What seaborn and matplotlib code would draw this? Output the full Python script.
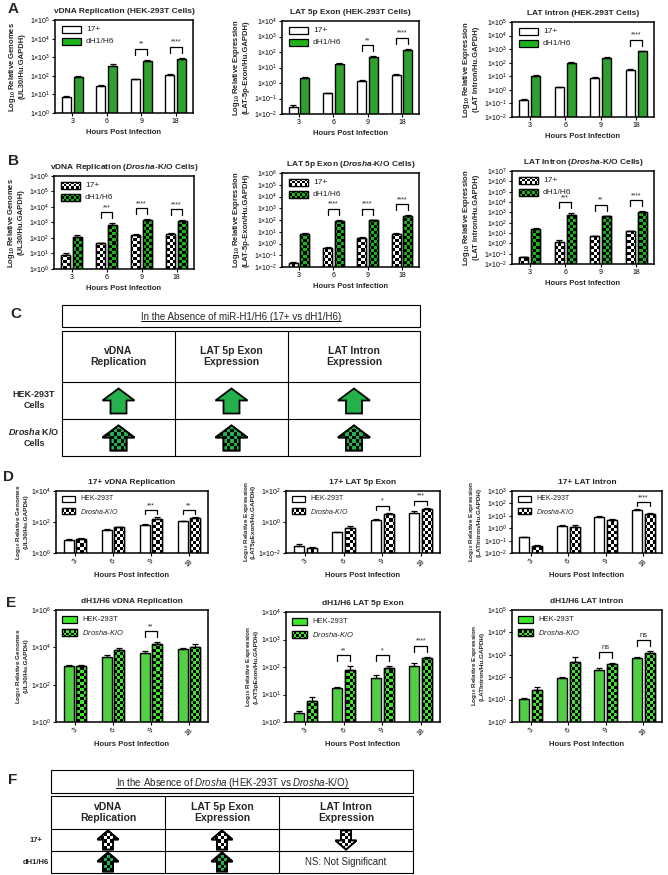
import matplotlib
matplotlib.use('Agg')
import matplotlib.colors as mcolors
import matplotlib.patches as mpatches
import matplotlib.pyplot as plt
import numpy as np
import pandas as pd
import seaborn as sns
from matplotlib.ticker import NullLocator

W, H = 668, 875

hours = ['3', '6', '9', '18']

# A: HEK-293T cells, 17+ vs dH1/H6
vdna_hek_17 = [7, 30, 65, 115]
vdna_hek_17_err = [1.5, 4, 5, 8]
vdna_hek_dh = [90, 350, 650, 850]
vdna_hek_dh_err = [12, 70, 90, 110]
exon_hek_17 = [0.03, 0.22, 1.3, 3.5]
exon_hek_17_err = [0.006, 0.02, 0.15, 0.6]
exon_hek_dh = [2.2, 18, 45, 130]
exon_hek_dh_err = [0.3, 2, 8, 30]
intron_hek_17 = [0.18, 1.5, 8, 30]
intron_hek_17_err = [0.02, 0.15, 0.8, 4]
intron_hek_dh = [11, 95, 220, 700]
intron_hek_dh_err = [1, 10, 30, 90]
sig_vdna_hek = ['', '', '**', '****']
sig_exon_hek = ['', '', '**', '****']
sig_intron_hek = ['', '', '', '****']

# B: Drosha-K/O cells, 17+ vs dH1/H6
vdna_ko_17 = [8, 45, 160, 180]
vdna_ko_17_err = [2, 4, 20, 20]
vdna_ko_dh = [120, 700, 1400, 1200]
vdna_ko_dh_err = [30, 200, 300, 250]
exon_ko_17 = [0.022, 0.4, 3.2, 6.5]
exon_ko_17_err = [0.003, 0.08, 0.3, 0.8]
exon_ko_dh = [6.5, 85, 100, 230]
exon_ko_dh_err = [2, 20, 10, 20]
intron_ko_17 = [0.045, 1.3, 4.8, 14]
intron_ko_17_err = [0.005, 0.6, 0.5, 2]
intron_ko_dh = [25, 500, 420, 1200]
intron_ko_dh_err = [4, 300, 40, 100]
sig_vdna_ko = ['', '***', '****', '****']
sig_exon_ko = ['', '****', '****', '****']
sig_intron_ko = ['', '***', '**', '****']

# D: 17+, HEK-293T vs Drosha-K/O
d_vdna_hek = [7, 30, 66, 110]
d_vdna_hek_err = [1.5, 5, 6, 8]
d_vdna_ko = [7.5, 45, 150, 180]
d_vdna_ko_err = [2, 6, 50, 30]
d_exon_hek = [0.028, 0.22, 1.25, 4]
d_exon_hek_err = [0.01, 0.02, 0.2, 1]
d_exon_ko = [0.022, 0.42, 3.5, 7]
d_exon_ko_err = [0.004, 0.1, 0.6, 1.5]
d_intron_hek = [0.18, 1.6, 8, 30]
d_intron_hek_err = [0.03, 0.2, 1, 5]
d_intron_ko = [0.04, 1.3, 4.9, 15]
d_intron_ko_err = [0.005, 0.6, 0.8, 2]
sig_d_vdna = ['', '', '***', '**']
sig_d_exon = ['', '', '*', '***']
sig_d_intron = ['', '', '', '****']

# E: dH1/H6, HEK-293T vs Drosha-K/O
e_vdna_hek = [1000, 3200, 5000, 8500]
e_vdna_hek_err = [200, 500, 1500, 1000]
e_vdna_ko = [1000, 7000, 15000, 11000]
e_vdna_ko_err = [200, 2500, 4000, 4000]
e_exon_hek = [2.2, 17, 40, 110]
e_exon_hek_err = [0.4, 2, 10, 30]
e_exon_ko = [6, 75, 95, 220]
e_exon_ko_err = [2, 30, 10, 20]
e_intron_hek = [11, 90, 220, 700]
e_intron_hek_err = [1, 10, 30, 100]
e_intron_ko = [27, 480, 380, 1150]
e_intron_ko_err = [8, 350, 40, 300]
sig_e_vdna = ['', '', '**', '']
sig_e_exon = ['', '**', '*', '****']
sig_e_intron = ['', '', 'ns', 'ns']

GREEN = '#1db31d'
LIME = '#40e62e'
ARROW_GREEN = '#24b04a'

sns.set_theme(style='ticks')
plt.rcParams['font.family'] = ['Liberation Sans', 'DejaVu Sans']
plt.rcParams['mathtext.fontset'] = 'custom'
plt.rcParams['mathtext.rm'] = 'Liberation Sans'
plt.rcParams['mathtext.it'] = 'Liberation Sans:italic'
plt.rcParams['mathtext.bf'] = 'Liberation Sans:bold'
plt.rcParams['mathtext.sf'] = 'Liberation Sans:bold:italic'
plt.rcParams['mathtext.default'] = 'regular'


def checker(c1, c2, nx, ny):
    a = np.array(mcolors.to_rgba(c1))
    b = np.array(mcolors.to_rgba(c2))
    ii, jj = np.indices((ny, nx))
    mask = ((ii + jj) % 2 == 0)[..., None]
    return np.where(mask, a, b)


def add_axes_px(fig, box):
    x0, y0, x1, y1 = box
    return fig.add_axes([x0 / W, 1 - y1 / H, (x1 - x0) / W, (y1 - y0) / H])


def checker_on_axes(ax, box, patch, c1, z, cell=3):
    wpx = box[2] - box[0]
    hpx = box[3] - box[1]
    img = checker(c1, 'black', int(wpx / cell), int(hpx / cell))
    im = ax.imshow(img, extent=(0, 1, 0, 1), transform=ax.transAxes,
                   aspect='auto', interpolation='nearest', zorder=z)
    im.set_clip_path(patch)


def draw_legend(ax, box, labels, styles, xo, yo, sw, sh, step, fs):
    wpx = box[2] - box[0]
    hpx = box[3] - box[1]
    for k, (lab, st) in enumerate(zip(labels, styles)):
        top = yo + k * step
        xy = (xo / wpx, 1 - (top + sh) / hpx)
        rect = mpatches.Rectangle(xy, sw / wpx, sh / hpx, transform=ax.transAxes,
                                  facecolor=st[1], edgecolor='black', lw=0.9,
                                  zorder=6)
        ax.add_patch(rect)
        if st[0] == 'checker':
            checker_on_axes(ax, box, rect, st[1], 6.5, cell=2.5)
            ax.add_patch(mpatches.Rectangle(xy, sw / wpx, sh / hpx,
                                            transform=ax.transAxes, fill=False,
                                            edgecolor='black', lw=0.9, zorder=7))
        ax.text((xo + sw + 5) / wpx, 1 - (top + sh / 2) / hpx, lab,
                transform=ax.transAxes, va='center', ha='left', fontsize=fs,
                color='#222222')


def bar_panel(fig, box, v1, e1, v2, e2, names, styles, labels, exps, ticks,
              sig, title, ylabel, rotate, leg):
    ax = add_axes_px(fig, box)
    df = pd.DataFrame({'Hours': hours * 2, 'Value': v1 + v2,
                       'Group': [names[0]] * 4 + [names[1]] * 4})
    ax.set_yscale('log')
    sns.barplot(data=df, x='Hours', y='Value', hue='Group', order=hours,
                hue_order=names, palette=[styles[0][1], styles[1][1]],
                edgecolor='black', linewidth=1.0, width=0.68, gap=0.22,
                errorbar=None, legend=False, ax=ax, zorder=2)
    ax.set_ylim(10.0 ** exps[0], 10.0 ** exps[1])
    ax.set_xlim(-0.5, 3.5)
    ax.set_autoscale_on(False)

    for cont, st in zip(ax.containers, styles):
        if st[0] != 'checker':
            continue
        for bar in cont:
            checker_on_axes(ax, box, bar, st[1], 2.5)
            ax.add_patch(mpatches.Rectangle((bar.get_x(), bar.get_y()),
                                            bar.get_width(), bar.get_height(),
                                            fill=False, edgecolor='black',
                                            lw=1.0, zorder=2.6))

    for cont, errs in zip(ax.containers, (e1, e2)):
        for bar, err in zip(cont, errs):
            xc = bar.get_x() + bar.get_width() / 2
            top = bar.get_y() + bar.get_height()
            ax.errorbar(xc, top, yerr=[[0], [err]], fmt='none', ecolor='black',
                        elinewidth=0.9, capsize=2, capthick=0.9, zorder=5)

    hpx = box[3] - box[1]
    legs, rise = (3, 7) if hpx < 80 else (5, 11)
    trans = ax.get_xaxis_transform()
    for i, s in enumerate(sig):
        if not s:
            continue
        b1 = ax.containers[0][i]
        b2 = ax.containers[1][i]
        xa = b1.get_x() + b1.get_width() / 2
        xb = b2.get_x() + b2.get_width() / 2
        top = max(v1[i] + e1[i], v2[i] + e2[i])
        f = (np.log10(top) - exps[0]) / (exps[1] - exps[0])
        fl = f + legs / hpx
        ft = f + rise / hpx
        ax.plot([xa, xa, xb, xb], [fl, ft, ft, fl], transform=trans,
                color='black', lw=0.9, clip_on=False, zorder=6)
        ax.text((xa + xb) / 2, ft + 1 / hpx, s, transform=trans, ha='center',
                va='bottom', fontsize=5 if s != 'ns' else 5.5, clip_on=False)

    ax.set_yticks([10.0 ** e for e in ticks])
    ax.set_yticklabels([f'1×10$^{{{e}}}$' for e in ticks])
    ax.yaxis.set_minor_locator(NullLocator())
    ax.tick_params(axis='both', labelsize=5, length=2.5, width=0.8, pad=1,
                   colors='black')
    if rotate:
        plt.setp(ax.get_xticklabels(), rotation=45, ha='center')
    for sp in ax.spines.values():
        sp.set_linewidth(1.1)
        sp.set_color('black')
    ax.set_title(title, fontsize=6, fontweight='bold', pad=5)
    ax.set_xlabel('Hours Post Infection', fontsize=5.5, fontweight='bold',
                  labelpad=3)
    ax.set_ylabel(ylabel, fontsize=4.6 if rotate else 5.5, fontweight='bold',
                  labelpad=1.5 if rotate else 3, linespacing=1.1)
    draw_legend(ax, box, labels, styles, *leg)
    return ax


def arrow_pts(cx, cy, h, hw, sw, hl, up=True):
    s = -1 if up else 1
    tip = cy + s * h / 2
    base = cy - s * h / 2
    neck = tip - s * hl
    return [(cx, tip), (cx + hw / 2, neck), (cx + sw / 2, neck),
            (cx + sw / 2, base), (cx - sw / 2, base), (cx - sw / 2, neck),
            (cx - hw / 2, neck)]


def draw_arrow(ov, cx, cy, dims, up, fill, check=False, cell=3.5):
    pts = arrow_pts(cx, cy, *dims, up=up)
    poly = mpatches.Polygon(pts, closed=True, facecolor=fill,
                            edgecolor='black', lw=1.3, zorder=3)
    ov.add_patch(poly)
    if check:
        xs = [p[0] for p in pts]
        ys = [p[1] for p in pts]
        nx = max(1, int(round((max(xs) - min(xs)) / cell)))
        ny = max(1, int(round((max(ys) - min(ys)) / cell)))
        im = ov.imshow(checker(fill, 'black', nx, ny),
                       extent=(min(xs), max(xs), max(ys), min(ys)),
                       aspect='auto', interpolation='nearest', zorder=3.5)
        im.set_clip_path(poly)
        ov.add_patch(mpatches.Polygon(pts, closed=True, fill=False,
                                      edgecolor='black', lw=1.3, zorder=4))


def draw_table(ov, x_cols, y_rows, title_box, title, headers):
    tx0, ty0, tx1, ty1 = title_box
    ov.add_patch(mpatches.Rectangle((tx0, ty0), tx1 - tx0, ty1 - ty0,
                                    fill=False, edgecolor='black', lw=0.8))
    t = ov.text((tx0 + tx1) / 2, (ty0 + ty1) / 2 + 1, title, ha='center',
                va='center', fontsize=7)
    for x in x_cols:
        ov.plot([x, x], [y_rows[0], y_rows[-1]], color='black', lw=0.8)
    for y in y_rows:
        ov.plot([x_cols[0], x_cols[-1]], [y, y], color='black', lw=0.8)
    for k, hd in enumerate(headers):
        ov.text((x_cols[k] + x_cols[k + 1]) / 2, (y_rows[0] + y_rows[1]) / 2,
                hd, ha='center', va='center', fontsize=7.5, fontweight='bold',
                linespacing=1.15)
    return t


fig = plt.figure(figsize=(W / 100, H / 100), dpi=100)
ov = fig.add_axes([0, 0, 1, 1])
ov.set_xlim(0, W)
ov.set_ylim(H, 0)
ov.axis('off')
ov.set_autoscale_on(False)

yl_gen = 'Log$_{10}$ Relative Genomes\n(UL30/Hu.GAPDH)'
yl_exon = 'Log$_{10}$ Relative Expression\n(LAT-5p-Exon/Hu.GAPDH)'
yl_intron = 'Log$_{10}$ Relative Expression\n(LAT Intron/Hu.GAPDH)'
yl_exon2 = 'Log$_{10}$ Relative Expression\n(LAT5pExon/Hu.GAPDH)'
yl_intron2 = 'Log$_{10}$ Relative Expression\n(LATIntron/Hu.GAPDH)'

virus = ['17+', 'dH1/H6']
cells = ['HEK-293T', 'Drosha-K/O']
cell_labels = ['HEK-293T', r'$\mathit{Drosha}$-$\mathit{K/O}$']
st_a = [('solid', 'white'), ('solid', GREEN)]
st_b = [('checker', 'white'), ('checker', GREEN)]
st_d = [('solid', 'white'), ('checker', 'white')]
st_e = [('solid', LIME), ('checker', LIME)]
leg_big = (7, 6, 19, 7, 12, 6)
leg_d = (6, 5, 13, 6, 12, 5)
leg_e = (6, 6, 15, 7, 13, 5.5)

bar_panel(fig, (55, 20, 193, 113), vdna_hek_17, vdna_hek_17_err, vdna_hek_dh,
          vdna_hek_dh_err, virus, st_a, virus, (0, 5), range(0, 6),
          sig_vdna_hek, 'vDNA Replication (HEK-293T Cells)', yl_gen, False,
          leg_big)
bar_panel(fig, (282, 21, 419, 114), exon_hek_17, exon_hek_17_err, exon_hek_dh,
          exon_hek_dh_err, virus, st_a, virus, (-2, 4), range(-2, 5),
          sig_exon_hek, 'LAT 5p Exon (HEK-293T Cells)', yl_exon, False, leg_big)
bar_panel(fig, (512, 22, 654, 117), intron_hek_17, intron_hek_17_err,
          intron_hek_dh, intron_hek_dh_err, virus, st_a, virus, (-2, 5),
          range(-2, 6), sig_intron_hek, 'LAT Intron (HEK-293T Cells)',
          yl_intron, False, leg_big)

bar_panel(fig, (54, 176, 194, 269), vdna_ko_17, vdna_ko_17_err, vdna_ko_dh,
          vdna_ko_dh_err, virus, st_b, virus, (0, 6), range(0, 7),
          sig_vdna_ko, r'vDNA Replication ($\mathsf{Drosha}$-K/O Cells)', yl_gen,
          False, leg_big)
bar_panel(fig, (282, 173, 419, 267), exon_ko_17, exon_ko_17_err, exon_ko_dh,
          exon_ko_dh_err, virus, st_b, virus, (-2, 6), range(-2, 7),
          sig_exon_ko, r'LAT 5p Exon ($\mathsf{Drosha}$-K/O Cells)', yl_exon,
          False, leg_big)
bar_panel(fig, (512, 171, 654, 264), intron_ko_17, intron_ko_17_err,
          intron_ko_dh, intron_ko_dh_err, virus, st_b, virus, (-2, 7),
          range(-2, 8), sig_intron_ko,
          r'LAT Intron ($\mathsf{Drosha}$-K/O Cells)', yl_intron, False, leg_big)

bar_panel(fig, (56, 491, 208, 553), d_vdna_hek, d_vdna_hek_err, d_vdna_ko,
          d_vdna_ko_err, cells, st_d, cell_labels, (0, 4), [0, 2, 4],
          sig_d_vdna, '17+ vDNA Replication', yl_gen, True, leg_d)
bar_panel(fig, (286, 491, 440, 553), d_exon_hek, d_exon_hek_err, d_exon_ko,
          d_exon_ko_err, cells, st_d, cell_labels, (-2, 2), [-2, 0, 2],
          sig_d_exon, '17+ LAT 5p Exon', yl_exon2, True, leg_d)
bar_panel(fig, (512, 491, 662, 553), d_intron_hek, d_intron_hek_err,
          d_intron_ko, d_intron_ko_err, cells, st_d, cell_labels, (-2, 3),
          range(-2, 4), sig_d_intron, '17+ LAT Intron', yl_intron2, True, leg_d)

bar_panel(fig, (56, 610, 208, 722), e_vdna_hek, e_vdna_hek_err, e_vdna_ko,
          e_vdna_ko_err, cells, st_e, cell_labels, (0, 6), [0, 2, 4, 6],
          sig_e_vdna, 'dH1/H6 vDNA Replication', yl_gen, True, leg_e)
bar_panel(fig, (286, 612, 440, 722), e_exon_hek, e_exon_hek_err, e_exon_ko,
          e_exon_ko_err, cells, st_e, cell_labels, (0, 4), range(0, 5),
          sig_e_exon, 'dH1/H6 LAT 5p Exon', yl_exon2, True, leg_e)
bar_panel(fig, (512, 610, 662, 722), e_intron_hek, e_intron_hek_err,
          e_intron_ko, e_intron_ko_err, cells, st_e, cell_labels, (0, 5),
          range(0, 6), sig_e_intron, 'dH1/H6 LAT Intron', yl_intron2, True,
          leg_e)

# panel letters
for letter, (x, y) in zip('ABCDEF', [(8, 9), (8, 161), (10, 314), (3, 477),
                                      (6, 603), (8, 780)]):
    ov.text(x, y, letter, fontsize=11, fontweight='bold', ha='left',
            va='center')

headers = ['vDNA\nReplication', 'LAT 5p Exon\nExpression',
           'LAT Intron\nExpression']

# table C
c_cols = [62, 175, 288, 420]
c_rows = [331, 382, 419, 456]
t_c = draw_table(ov, c_cols, c_rows, (62, 305, 420, 327),
                 'In the Absence of miR-H1/H6 (17+ vs dH1/H6)', headers)
ov.text(34, 400, 'HEK-293T\nCells', ha='center', va='center', fontsize=6.5,
        fontweight='bold', linespacing=1.2)
ov.text(34, 437, '$\\mathsf{Drosha}$ K/O\nCells', ha='center', va='center',
        fontsize=6.5, fontweight='bold', linespacing=1.2)
c_dims = (25, 32, 16, 12)
for k in range(3):
    cx = (c_cols[k] + c_cols[k + 1]) / 2
    draw_arrow(ov, cx, 401, c_dims, True, ARROW_GREEN)
    draw_arrow(ov, cx, 438, c_dims, True, ARROW_GREEN, check=True)

# table F
f_cols = [51, 165, 279, 413]
f_rows = [796, 829, 851, 873]
t_f = draw_table(ov, f_cols, f_rows, (51, 770, 413, 793),
                 r'In the Absence of $\mathit{Drosha}$ (HEK-293T vs '
                 r'$\mathit{Drosha}$-K/O)', headers)
ov.text(36, 840, '17+', ha='center', va='center', fontsize=5.5,
        fontweight='bold')
ov.text(36, 862, 'dH1/H6', ha='center', va='center', fontsize=5.5,
        fontweight='bold')
f_dims = (19, 21, 10, 9)
for k, up in enumerate([True, True, False]):
    cx = (f_cols[k] + f_cols[k + 1]) / 2
    draw_arrow(ov, cx, 840, f_dims, up, 'white', check=True, cell=3)
for k in range(2):
    cx = (f_cols[k] + f_cols[k + 1]) / 2
    draw_arrow(ov, cx, 862, f_dims, True, ARROW_GREEN, check=True, cell=3)
ov.text((f_cols[2] + f_cols[3]) / 2, 862, 'NS: Not Significant', ha='center',
        va='center', fontsize=7)

# underline the two table titles
fig.canvas.draw()
for t in (t_c, t_f):
    bb = t.get_window_extent().transformed(ov.transData.inverted())
    y = max(bb.y0, bb.y1) - 1
    ov.plot([bb.x0, bb.x1], [y, y], color='black', lw=0.7)

fig.savefig('out.png', dpi=100)
